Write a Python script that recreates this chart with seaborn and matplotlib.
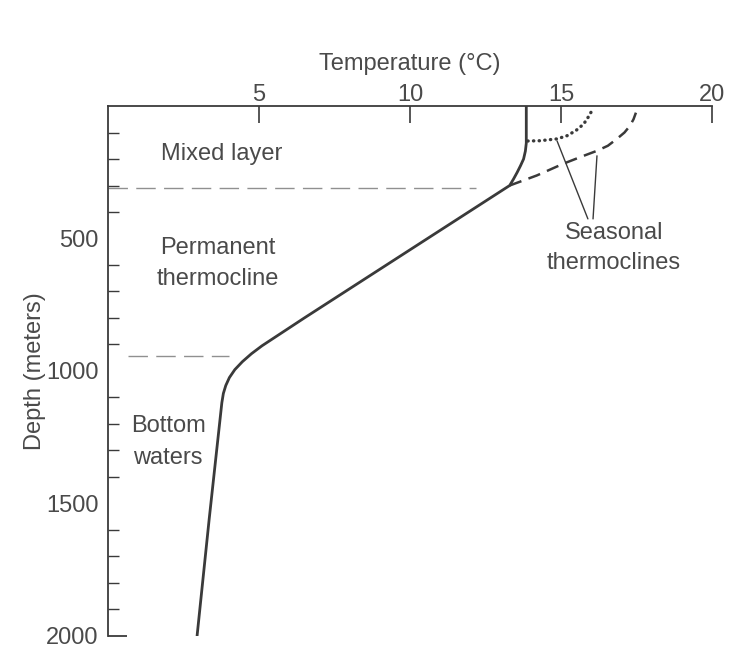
import matplotlib
matplotlib.use("Agg")
import matplotlib.pyplot as plt
import seaborn as sns
import pandas as pd

# Typical open-ocean temperature profile (temperature in °C, depth in m)
profile_temp = [13.85, 13.85, 13.82, 13.76, 13.66, 13.55, 13.43, 13.30,
                11.94, 10.58, 9.22, 7.86, 6.50, 5.50, 5.10, 4.75, 4.45,
                4.20, 4.02, 3.90, 3.82, 3.77, 3.35, 2.95]
profile_depth = [0, 140, 170, 200, 225, 250, 275, 300,
                 400, 500, 600, 700, 800, 875, 905, 935, 965,
                 995, 1025, 1055, 1085, 1120, 1560, 2000]

# Summer seasonal thermocline (dotted)
summer_temp = [13.90, 14.30, 14.87, 15.20, 15.50, 15.75, 15.90, 16.00]
summer_depth = [132, 131, 124, 112, 92, 68, 42, 22]

# Shallower/warmer seasonal thermocline (dashed)
warm_temp = [13.30, 14.20, 15.07, 15.70, 16.19, 16.55, 16.85, 17.10, 17.28, 17.40, 17.48]
warm_depth = [300, 262, 218, 190, 169, 150, 124, 100, 75, 50, 25]

layer_bounds = [310, 945]
depth_ticks = [500, 1000, 1500, 2000]
temp_ticks = [5, 10, 15, 20]

sns.set_theme(style="white")
plt.rcParams["font.family"] = ["Liberation Sans", "DejaVu Sans"]

ink = "#3a3a3a"
text_c = "#4a4a4a"

fig = plt.figure(figsize=(7.53, 6.59), dpi=100)
ax = fig.add_axes([0.1434, 0.0349, 0.9456 - 0.1434, 0.8042])

df_main = pd.DataFrame({"temp": profile_temp, "depth": profile_depth})
df_summer = pd.DataFrame({"temp": summer_temp, "depth": summer_depth})
df_warm = pd.DataFrame({"temp": warm_temp, "depth": warm_depth})

sns.lineplot(data=df_main, x="temp", y="depth", sort=False, estimator=None,
             color=ink, lw=2.0, ax=ax)
sns.lineplot(data=df_summer, x="temp", y="depth", sort=False, estimator=None,
             color=ink, lw=2.4, ax=ax, linestyle=(0, (0.1, 1.6)),
             dash_capstyle="round")
sns.lineplot(data=df_warm, x="temp", y="depth", sort=False, estimator=None,
             color=ink, lw=1.8, ax=ax, linestyle=(0, (5, 3)))

# Layer boundaries
ax.plot([0.0, 12.2], [layer_bounds[0]] * 2, color="#909090", lw=1.0,
        linestyle=(0, (14, 6)))
ax.plot([0.66, 4.0], [layer_bounds[1]] * 2, color="#909090", lw=1.0,
        linestyle=(0, (14, 6)))

# Leader lines to the seasonal thermoclines
ax.plot([14.87, 15.89], [132, 426], color=ink, lw=1.0)
ax.plot([16.19, 16.06], [188, 426], color=ink, lw=1.0)

fs = 17
ax.text(3.77, 181, "Mixed layer", ha="center", va="center", fontsize=fs, color=text_c)
ax.text(3.64, 535, "Permanent", ha="center", va="center", fontsize=fs, color=text_c)
ax.text(3.64, 652, "thermocline", ha="center", va="center", fontsize=fs, color=text_c)
ax.text(1.99, 1209, "Bottom", ha="center", va="center", fontsize=fs, color=text_c)
ax.text(1.99, 1330, "waters", ha="center", va="center", fontsize=fs, color=text_c)
ax.text(16.75, 478, "Seasonal", ha="center", va="center", fontsize=fs, color=text_c)
ax.text(16.75, 591, "thermoclines", ha="center", va="center", fontsize=fs, color=text_c)

ax.set_xlim(0, 20)
ax.set_ylim(2000.5, 0)

ax.xaxis.set_label_position("top")
ax.xaxis.tick_top()
ax.set_xticks(temp_ticks)
ax.set_xticklabels([str(t) for t in temp_ticks])
ax.set_yticks(depth_ticks)
ax.set_yticklabels([str(d) for d in depth_ticks])
ax.set_yticks(range(100, 2000, 100), minor=True)

ax.set_xlabel("Temperature (°C)", fontsize=fs, color=text_c, labelpad=10)
ax.set_ylabel("Depth (meters)", fontsize=fs, color=text_c, labelpad=0)

ax.tick_params(axis="x", which="major", direction="in", length=12, width=1.2,
               color=ink, labelsize=fs, labelcolor=text_c, pad=0,
               top=True, bottom=False)
ax.tick_params(axis="y", which="major", direction="in", length=13.5, width=1.2,
               color=ink, labelsize=fs, labelcolor=text_c, pad=7)
ax.tick_params(axis="y", which="minor", direction="in", length=8, width=1.0,
               color=ink, left=True)

# Closing tick at the deepest level
ax.plot([0, 0.62], [depth_ticks[-1]] * 2, color=ink, lw=1.3, clip_on=False,
        solid_capstyle="butt")

for side in ("right", "bottom"):
    ax.spines[side].set_visible(False)
for side in ("left", "top"):
    ax.spines[side].set_color(ink)
    ax.spines[side].set_linewidth(1.3)

ax.set_facecolor("white")
fig.patch.set_facecolor("white")
fig.savefig("out.png", dpi=100)
